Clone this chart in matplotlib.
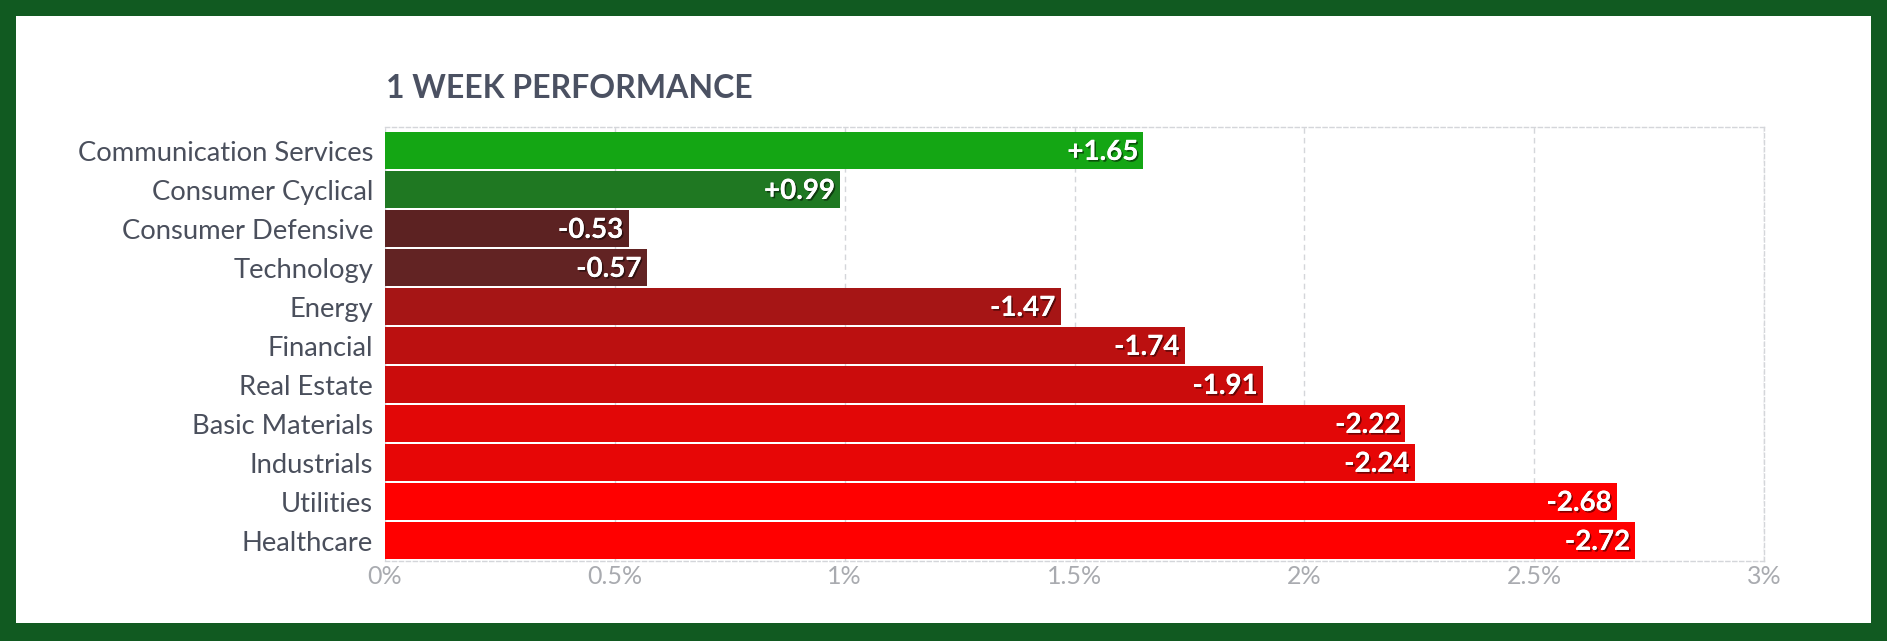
import matplotlib

matplotlib.use("Agg")
import matplotlib.pyplot as plt
import matplotlib.patheffects as pe
from matplotlib.patches import Rectangle
from matplotlib.ticker import FuncFormatter
import numpy as np

sectors = [
    "Communication Services",
    "Consumer Cyclical",
    "Consumer Defensive",
    "Technology",
    "Energy",
    "Financial",
    "Real Estate",
    "Basic Materials",
    "Industrials",
    "Utilities",
    "Healthcare",
]
changes = [1.65, 0.99, -0.53, -0.57, -1.47, -1.74, -1.91, -2.22, -2.24, -2.68, -2.72]
bar_colors = [
    "#14a614",
    "#1f7822",
    "#5c2222",
    "#622323",
    "#a61515",
    "#bb1010",
    "#cb0c0c",
    "#e20707",
    "#e70606",
    "#ff0000",
    "#ff0000",
]
x_ticks = [0, 0.5, 1, 1.5, 2, 2.5, 3]

W, H = 1887, 641
BORDER = "#115a21"
LABEL_COLOR = "#4a4f5c"
TICK_COLOR = "#a9abb0"
GRID_COLOR = "#d4d6da"

plt.rcParams["font.family"] = ["Lato", "DejaVu Sans"]

fig = plt.figure(figsize=(W / 100, H / 100), dpi=100)
fig.patch.set_facecolor(BORDER)
fig.patches.append(
    Rectangle((16 / W, 18 / H), 1855 / W, 607 / H, transform=fig.transFigure,
              facecolor="white", edgecolor="none", zorder=-1)
)

ax = fig.add_axes([385 / W, 80 / H, (1764 - 385) / W, (561 - 127) / H])
ax.set_zorder(1)
ax.set_facecolor("white")

y = np.arange(len(sectors))
mags = np.abs(changes)
ax.barh(y, mags, height=0.95, color=bar_colors, edgecolor="none", zorder=2)

shadow = [pe.withSimplePatchShadow(offset=(1.2, -1.2), shadow_rgbFace="black", alpha=0.5), pe.Normal()]
for yi, v, m in zip(y, changes, mags):
    txt = f"{v:+.2f}"
    ax.text(m - 0.011, yi + 0.03, txt, ha="right", va="center", color="white",
            fontsize=20, fontweight="bold", zorder=3, path_effects=shadow)

ax.set_xlim(0, 3)
ax.set_ylim(10.52, -0.61)
ax.set_yticks(y)
ax.set_yticklabels(sectors, fontsize=19.7, color=LABEL_COLOR)
ax.set_xticks(x_ticks)
ax.xaxis.set_major_formatter(FuncFormatter(lambda v, _: f"{v:g}%"))
ax.tick_params(axis="x", labelsize=18, labelcolor=TICK_COLOR, length=0, pad=3)
ax.tick_params(axis="y", length=0, pad=8.5)

ax.grid(axis="x", color=GRID_COLOR, linestyle=(0, (4, 3)), linewidth=1, zorder=1)
ax.set_axisbelow(True)
for side in ("top", "right", "bottom"):
    ax.spines[side].set_color(GRID_COLOR)
    ax.spines[side].set_linestyle((0, (3, 2)))
    ax.spines[side].set_linewidth(1)
ax.spines["left"].set_visible(False)

fig.text(386 / W, 1 - 89 / H, "1 WEEK PERFORMANCE", ha="left", va="center",
         fontsize=23, fontweight="bold", color="#4b5162")

fig.savefig("out.png", dpi=100, facecolor=fig.get_facecolor())
